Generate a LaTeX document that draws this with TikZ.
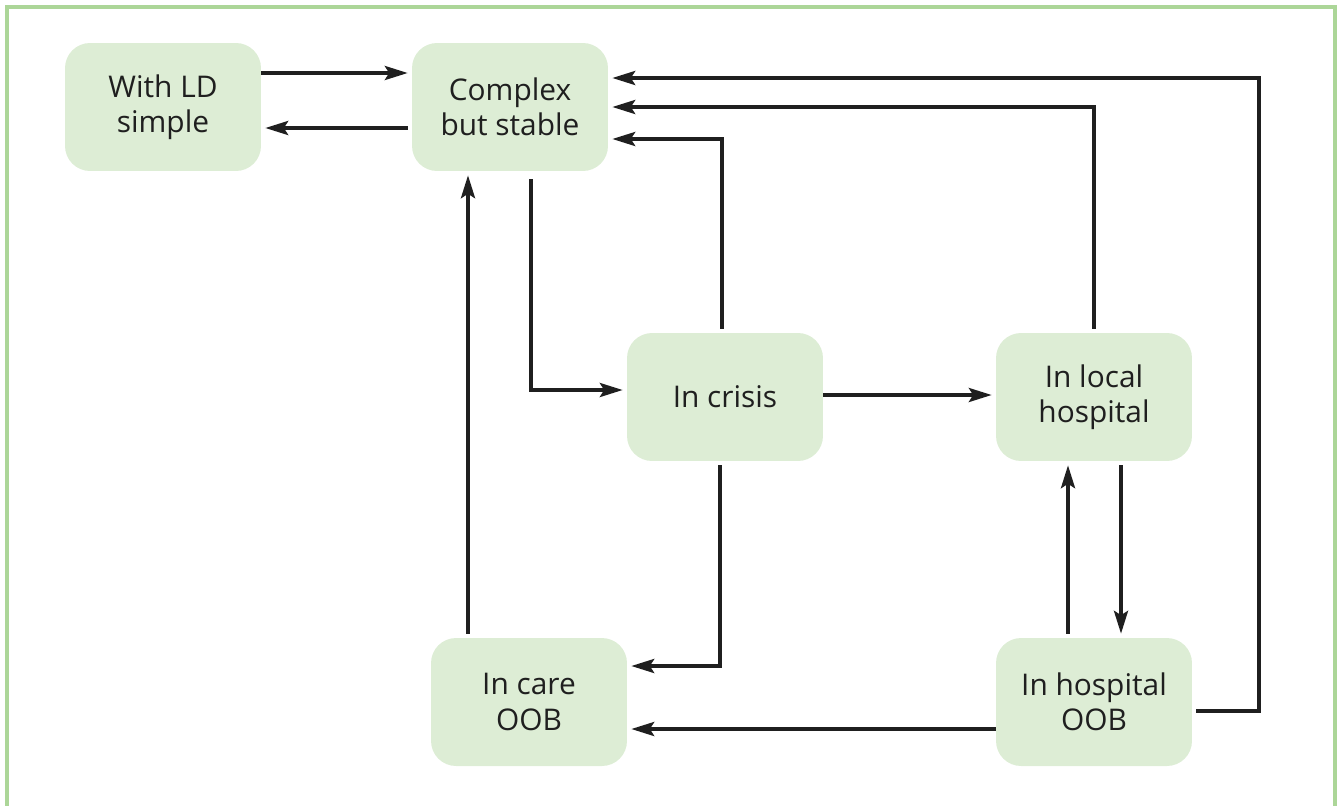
\documentclass[tikz,border=0pt]{standalone}
\usepackage{fontspec}
\setmainfont{Open Sans}
\usetikzlibrary{arrows.meta}
\usetikzlibrary{positioning}
\definecolor{boxgreen}{RGB}{221,237,213}
\definecolor{framegreen}{RGB}{172,214,152}
\colorlet{myink}{black!88}
\tikzset{
  >=latex,
  state/.style={rounded corners=0.5cm,fill=boxgreen,text=myink,align=center,
    minimum width=3.92cm,minimum height=2.56cm,font=\fontsize{17}{20}\selectfont},
  connect arrow/.style={-{Stealth[length=13pt,width=8pt,inset=2.5pt]},line width=2pt,myink,
    shorten <=0.08cm,shorten >=0.08cm}
}

\begin{document}
\begin{tikzpicture}[x=0.02cm,y=-0.02cm]
    \useasboundingbox (0,0) rectangle (1338,805);
    % Frame
    \draw[framegreen,line width=2pt] (7,812) -- (7,7) -- (1335,7) -- (1335,812);

    % Draw the states
    \node[state] (ld) at (163,107) {With LD\\simple};
    \node[state] (complex) at (510,107) {Complex\\but stable};
    \node[state] (crisis) at (725,397) {In crisis};
    \node[state] (local) at (1094,397) {In local\\hospital};
    \node[state] (care) at (529,702) {In care\\OOB};
    \node[state] (hosp) at (1094,702) {In hospital\\OOB};

    % Connect the states
    \draw[connect arrow,shorten <=0pt] (ld.east |- 0,73) -- (complex.west |- 0,73);
    \draw[connect arrow] (complex.west |- 0,128) -- (ld.east |- 0,128);
    \draw[connect arrow,shorten <=0.16cm] (complex.south -| 531,0) |- (crisis.west |- 0,390);
    \draw[connect arrow] (crisis.north -| 722,0) |- (complex.east |- 0,139);
    \draw[connect arrow] (local.north) |- (complex.east);
    \draw[connect arrow] (hosp.east |- 0,711) -| (1259,78) -- (complex.east |- 0,78);
    \draw[connect arrow,shorten <=0pt] (crisis.east |- 0,395) -- (local.west |- 0,395);
    \draw[connect arrow] (crisis.south -| 720,0) |- (care.east |- 0,666);
    \draw[connect arrow] (care.north -| 468,0) -- (complex.south -| 468,0);
    \draw[connect arrow] (local.south -| 1121,0) -- (hosp.north -| 1121,0);
    \draw[connect arrow] (hosp.north -| 1068,0) -- (local.south -| 1068,0);
    \draw[connect arrow,shorten <=0pt] (hosp.west |- 0,729) -- (care.east |- 0,729);
\end{tikzpicture}
\end{document}
